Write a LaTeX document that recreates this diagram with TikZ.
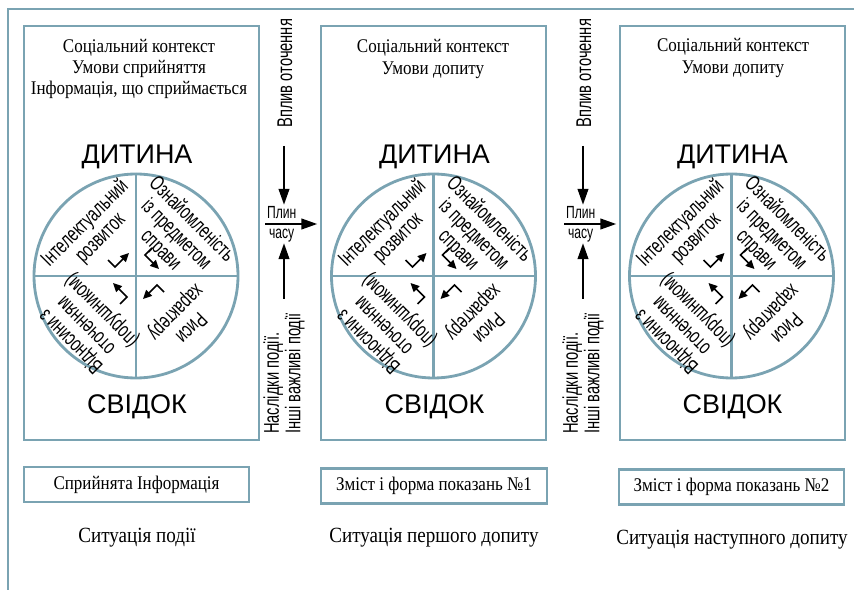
\documentclass[tikz,border=0pt]{standalone}
\usepackage{fontspec}
\setmainfont{Liberation Serif}[FakeStretch=0.88]
\newfontfamily\vuzky{Liberation Sans}[FakeStretch=0.69]
\newfontfamily\shyrokyj{Liberation Sans}
\usetikzlibrary{arrows.meta}
\definecolor{sirosynij}{RGB}{122,163,178}

\begin{document}
\begin{tikzpicture}[panel/.style={draw=sirosynij, line width=2.4pt, minimum height=12.42cm, inner sep=0pt},
	kolo/.style={draw=sirosynij, line width=2.4pt, circle, minimum size=6.12cm, inner sep=0pt},
	kontekst/.style={align=center, font=\fontsize{16.5}{18}\selectfont},
	osoba/.style={font=\shyrokyj\fontsize{23}{24}\selectfont},
	sektor/.style={align=center, font=\vuzky\fontsize{18.2}{18.5}\selectfont, inner sep=0pt},
	pidpys/.style={font=\vuzky\fontsize{18.2}{18.5}\selectfont, inner sep=1pt},
	plyn/.style={align=center, font=\vuzky\fontsize{15}{17}\selectfont, inner sep=1pt},
	rezultat/.style={draw=sirosynij, line width=2.4pt, minimum width=6.75cm, minimum height=1.05cm, font=\fontsize{16.5}{18}\selectfont},
	sytuacija/.style={font=\fontsize{18.5}{20}\selectfont},
	strilka/.style={-{Triangle[length=0.48cm,width=0.32cm]}, line width=1.8pt},
	mala/.style={-{Triangle[length=0.26cm,width=0.24cm]}, line width=1.4pt}]
	\useasboundingbox (0,0) rectangle (25.62,-17.7);
	\draw[sirosynij, line width=2.4pt] (0.24,-17.9) -- (0.24,-0.27) -- (25.9,-0.27);
	\node[panel, minimum width=7.05cm] (B1) at (4.245,-6.99) {};
	\node[panel, minimum width=6.75cm] (B2) at (13.005,-6.99) {};
	\node[panel, minimum width=6.75cm] (B3) at (21.975,-6.99) {};
	\node[kontekst] (K1) at (4.17,-2.07) {Соціальний контекст\\Умови сприйняття\\Інформація, що сприймається};
	\node[kontekst] (K2) at (12.99,-1.77) {Соціальний контекст\\Умови допиту};
	\node[kontekst] (K3) at (21.99,-1.74) {Соціальний контекст\\Умови допиту};
	\foreach \i/\x in {1/4.08, 2/13.005, 3/21.945} {
		\node[osoba] (D\i) at (\x+0.03,-4.72) {ДИТИНА};
		\node[kolo] (C\i) at (\x,-8.28) {};
		\node[osoba] (S\i) at (\x+0.03,-12.2) {СВІДОК};
		\draw[sirosynij, line width=2.4pt] (C\i.north) -- (C\i.south) (C\i.west) -- (C\i.east);
		\node[sektor, rotate=45] (IR\i) at ([shift={(-1.29,1.35)}]C\i.center) {Інтелектуальний\\розвиток};
		\node[sektor, rotate=-45] (OS\i) at ([shift={(1.2,1.23)}]C\i.center) {Ознайомленість\\із предметом\\справи};
		\node[sektor, rotate=-135] (RX\i) at ([shift={(1.4,-1.3)}]C\i.center) {Риси\\характеру};
		\node[sektor, rotate=135] (VO\i) at ([shift={(-1.48,-1.48)}]C\i.center) {Відносини з\\оточенням\\(порушником)};
		\foreach \r in {0,-90,-180,-270}
			\draw[mala, shift={(C\i.center)}, rotate=\r] (-0.84,0.48) -- (-0.63,0.27) -- (-0.21,0.69);
	}
	\node[rezultat] (R1) at (4.095,-14.535) {Сприйнята Інформація};
	\node[rezultat, minimum width=6.78cm] (R2) at (13.02,-14.58) {Зміст і форма показань №1};
	\node[rezultat] (R3) at (21.945,-14.61) {Зміст і форма показань №2};
	\node[sytuacija] (N1) at (4.11,-16.14) {Ситуація події};
	\node[sytuacija] (N2) at (13.02,-16.14) {Ситуація першого допиту};
	\node[sytuacija] (N3) at (21.96,-16.2) {Ситуація наступного допиту};
	\node[pidpys, rotate=90] (V1) at (8.55,-2.2) {Вплив оточення};
	\node[plyn] (P1) at (8.45,-6.72) {Плин\\часу};
	\node[pidpys, rotate=90, anchor=west, align=left] (Q1) at (8.52,-13.06) {Наслідки події.\\Інші важливі події};
	\node[pidpys, rotate=90] (V2) at (17.52,-2.2) {Вплив оточення};
	\node[plyn] (P2) at (17.42,-6.72) {Плин\\часу};
	\node[pidpys, rotate=90, anchor=west, align=left] (Q2) at (17.49,-13.06) {Наслідки події.\\Інші важливі події};
	\coordinate (A1) at (8.52,-4.38);
	\coordinate (E1) at (8.52,-8.97);
	\coordinate (H1) at (7.95,-6.72);
	\coordinate (A2) at (17.49,-4.38);
	\coordinate (E2) at (17.49,-8.97);
	\coordinate (H2) at (16.92,-6.72);
	\draw[strilka] (A1) -- (A1 |- P1.north);
	\draw[strilka] (E1) -- (E1 |- P1.south);
	\draw[strilka, shorten >=2pt] (H1) -- (H1 -| B2.west);
	\draw[strilka] (A2) -- (A2 |- P2.north);
	\draw[strilka] (E2) -- (E2 |- P2.south);
	\draw[strilka, shorten >=2pt] (H2) -- (H2 -| B3.west);
\end{tikzpicture}
\end{document}
